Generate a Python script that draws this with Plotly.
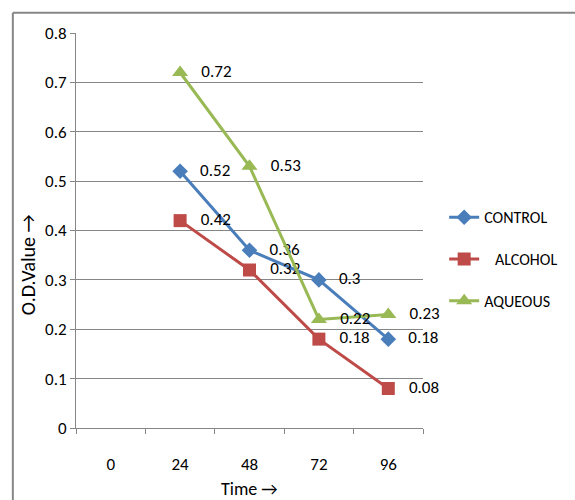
import plotly.graph_objects as go

categories = ["0", "24", "48", "72", "96"]
series_names = ["CONTROL", "ALCOHOL", "AQUEOUS"]
legend_names = ["CONTROL", "\u00a0\u00a0\u00a0ALCOHOL", "AQUEOUS"]
times = ["24", "48", "72", "96"]
control = [0.52, 0.36, 0.3, 0.18]
alcohol = [0.42, 0.32, 0.18, 0.08]
aqueous = [0.72, 0.53, 0.22, 0.23]
y_ticks = [0, 0.1, 0.2, 0.3, 0.4, 0.5, 0.6, 0.7, 0.8]

FONT = "Carlito, 'Liberation Sans', sans-serif"
FS = 17
colors = ["#4A7EBB", "#BE4B48", "#98B954"]
symbols = ["diamond", "square", "triangle-up"]
sizes = [12, 13, 14]

fig = go.Figure()
for i, (name, vals) in enumerate(zip(legend_names, [control, alcohol, aqueous])):
    fig.add_trace(go.Scatter(
        x=times, y=vals, name=name, mode="lines+markers+text",
        text=["\u00a0\u00a0\u00a0" + f"{v:g}" for v in vals],
        textposition="middle right",
        textfont=dict(family=FONT, size=FS, color="#000000"),
        line=dict(color=colors[i], width=3),
        marker=dict(symbol=symbols[i], size=sizes[i], color=colors[i]),
        legendgroup=f"g{i}", cliponaxis=False,
    ))

fig.update_layout(
    width=575, height=500,
    margin=dict(l=76, r=135, t=33, b=72),
    paper_bgcolor="white", plot_bgcolor="white",
    font=dict(family=FONT, size=FS, color="#000000"),
    showlegend=True,
    legend=dict(x=1.061, y=0.427, xanchor="left", yanchor="middle",
                tracegroupgap=18, font=dict(family=FONT, size=FS - 1),
                bgcolor="rgba(0,0,0,0)"),
    xaxis=dict(type="category", categoryorder="array", categoryarray=categories,
               tickvals=categories, range=[-0.5, 4.5], tickson="boundaries",
               ticks="outside", ticklen=5, tickcolor="#868686",
               showline=True, linecolor="#868686", linewidth=1,
               showgrid=False, ticklabelstandoff=21,
               tickfont=dict(family=FONT, size=FS)),
    yaxis=dict(range=[0, 0.8], tickvals=y_ticks, ticktext=[f"{v:g}" for v in y_ticks],
               ticks="outside", ticklen=5, tickcolor="#868686",
               showline=True, linecolor="#868686", linewidth=1,
               showgrid=True, gridcolor="#868686", gridwidth=1,
               zeroline=False, tickfont=dict(family=FONT, size=FS)),
    annotations=[
        dict(text="Time \u2192", xref="paper", yref="paper", x=0.5, y=-0.155,
             xanchor="center", yanchor="middle", showarrow=False,
             font=dict(family=FONT, size=FS + 1)),
        dict(text="O.D.Value \u2192", xref="paper", y=0.413, yref="paper",
             x=(25 - 76) / 364, xanchor="center", yanchor="middle", showarrow=False,
             textangle=-90, font=dict(family=FONT, size=FS + 3)),
    ],
    shapes=[
        dict(type="line", xref="paper", yref="paper", x0=-0.182, x1=1.5,
             y0=1.051, y1=1.051, line=dict(color="#868686", width=2)),
        dict(type="line", xref="paper", yref="paper", x0=-0.182, x1=-0.182,
             y0=1.051, y1=-0.5, line=dict(color="#868686", width=2)),
    ],
)
fig.write_html("out.html", config={"displayModeBar": False},
               post_script="document.body.style.margin='0';")
